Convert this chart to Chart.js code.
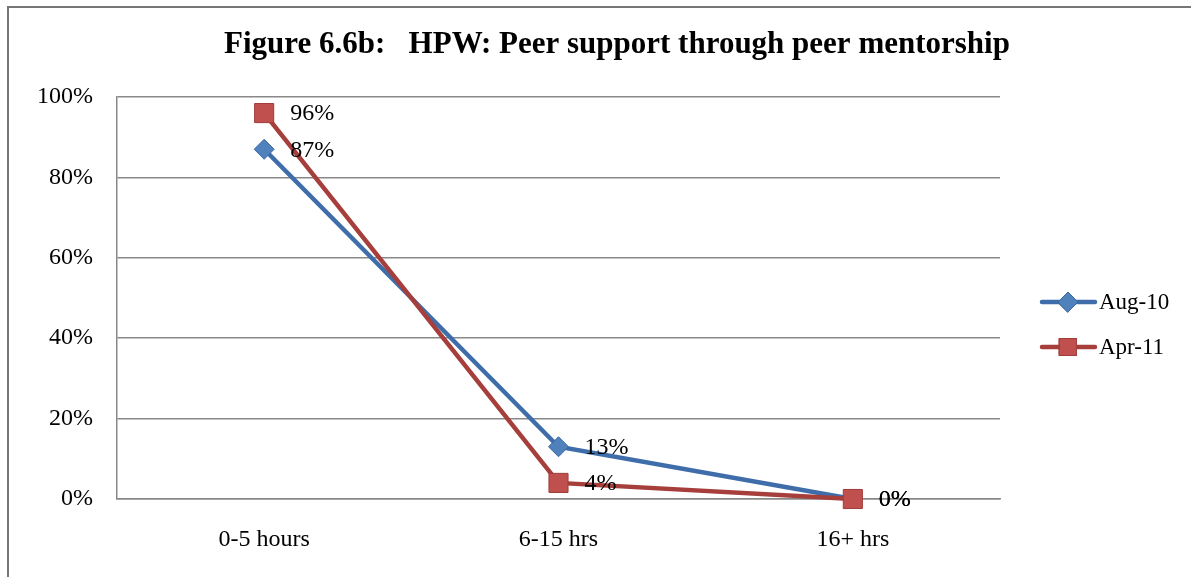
<!DOCTYPE html>
<html>
<head>
<meta charset="utf-8">
<script src="https://cdn.jsdelivr.net/npm/chart.js@4"></script>
<style>
  html, body { margin: 0; padding: 0; background: #fff; overflow: hidden; }
  #frame { position: absolute; left: 7px; top: 6px; width: 1200px; height: 600px; border: 2px solid #767676; }
  #wrap { position: absolute; left: 0; top: 0; width: 1191px; height: 577px; }
</style>
</head>
<body>
<div id="frame"></div>
<div id="wrap"><canvas id="hpw-chart"></canvas></div>
<script>
// Peer support chart data
const categories = ['0-5 hours', '6-15 hrs', '16+ hrs'];
const seriesNames = ['Aug-10', 'Apr-11'];
const aug10 = [87, 13, 0];
const apr11 = [96, 4, 0];
const yTicks = [0, 20, 40, 60, 80, 100];

const titleText = 'Figure 6.6b:   HPW: Peer support through peer mentorship';
const serif = "'Liberation Serif', 'DejaVu Serif', serif";

// draws title, data labels and the legend (line + marker)
const extrasPlugin = {
  id: 'extras',
  afterDatasetsDraw: function(chart) {
    const ctx = chart.ctx;
    ctx.save();
    ctx.fillStyle = '#000';
    ctx.font = '24px ' + serif;
    ctx.textBaseline = 'middle';
    ctx.textAlign = 'left';
    chart.data.datasets.forEach(function(ds, i) {
      const meta = chart.getDatasetMeta(i);
      meta.data.forEach(function(pt, j) {
        ctx.fillText(ds.data[j] + '%', pt.x + 26, pt.y + 1);
      });
    });
    ctx.restore();
  },
  afterDraw: function(chart) {
    const ctx = chart.ctx;
    ctx.save();
    // title
    ctx.fillStyle = '#000';
    ctx.font = 'bold 31px ' + serif;
    ctx.textAlign = 'center';
    ctx.textBaseline = 'middle';
    ctx.fillText(titleText, 617, 45);

    // legend
    const legendY = [302, 347];
    chart.data.datasets.forEach(function(ds, i) {
      const y = legendY[i];
      ctx.strokeStyle = ds.borderColor;
      ctx.lineWidth = 4.5;
      ctx.lineCap = 'round';
      ctx.beginPath();
      ctx.moveTo(1042, y);
      ctx.lineTo(1095, y);
      ctx.stroke();
      ctx.lineWidth = 1;
      Chart.helpers.drawPoint(ctx, {
        pointStyle: ds.pointStyle,
        radius: ds.pointStyle === 'rect' ? 12 : 10,
        borderWidth: 1
      }, 1068, y);
      ctx.fillStyle = ds.pointBackgroundColor;
      ctx.strokeStyle = ds.pointBorderColor;
      ctx.fill();
      ctx.stroke();
      ctx.fillStyle = '#000';
      ctx.font = '23px ' + serif;
      ctx.textAlign = 'left';
      ctx.fillText(ds.label, 1099, y + 1);
    });
    ctx.restore();
  }
};

var ctx = document.getElementById('hpw-chart').getContext('2d');
var hpwChart = new Chart(ctx, {
  type: 'line',
  data: {
    labels: categories,
    datasets: [
      {
        label: seriesNames[0],
        data: aug10,
        order: 1,
        borderColor: '#3E6DAA',
        borderWidth: 4.5,
        pointStyle: 'rectRot',
        pointRadius: 10,
        pointHoverRadius: 10,
        pointBackgroundColor: '#4F81BD',
        pointBorderColor: '#3C6AA3',
        pointBorderWidth: 1,
        tension: 0,
        clip: false
      },
      {
        label: seriesNames[1],
        data: apr11,
        order: 0,
        borderColor: '#A63E3B',
        borderWidth: 4.5,
        pointStyle: 'rect',
        pointRadius: 13.5,
        pointHoverRadius: 13.5,
        pointBackgroundColor: '#C0504D',
        pointBorderColor: '#A03C3A',
        pointBorderWidth: 1,
        tension: 0,
        clip: false
      }
    ]
  },
  options: {
    responsive: true,
    maintainAspectRatio: false,
    animation: false,
    layout: {
      padding: { top: 97, right: 191, bottom: 0, left: 0 }
    },
    scales: {
      x: {
        offset: true,
        grid: { display: false, drawTicks: false },
        border: { display: true, color: '#888', width: 1.5 },
        ticks: {
          color: '#000',
          padding: 26,
          font: { size: 24, family: serif }
        },
        afterFit: function(scale) { scale.height = 78; }
      },
      y: {
        min: 0,
        max: 100,
        afterBuildTicks: function(scale) {
          scale.ticks = yTicks.map(function(v) { return { value: v }; });
        },
        grid: { color: '#888', lineWidth: 1.5, drawTicks: false },
        border: { display: true, color: '#888', width: 1.5 },
        ticks: {
          color: '#000',
          padding: 24,
          font: { size: 24, family: serif },
          callback: function(v) { return v + '%'; }
        },
        afterFit: function(scale) { scale.width = 117; }
      }
    },
    plugins: {
      legend: { display: false },
      title: { display: false },
      tooltip: { enabled: false }
    }
  },
  plugins: [extrasPlugin]
});
</script>
</body>
</html>
